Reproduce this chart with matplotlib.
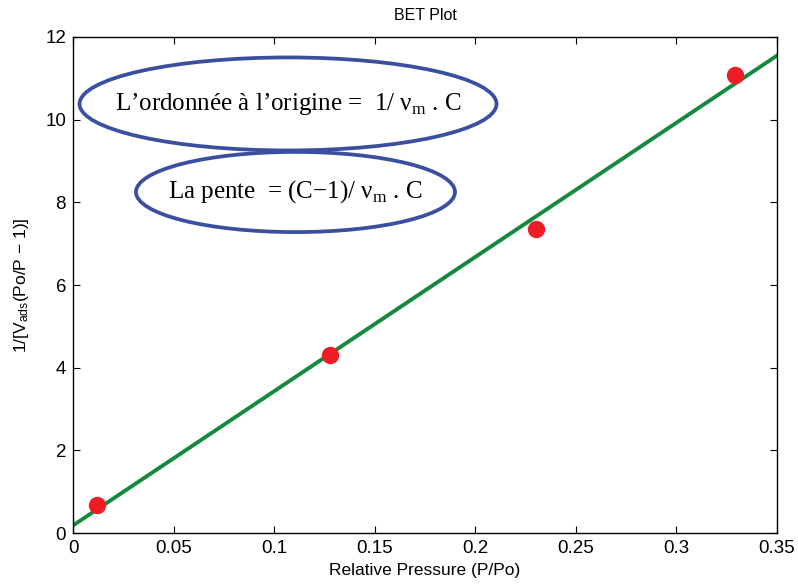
import numpy as np
import matplotlib
matplotlib.use('Agg')
import matplotlib.pyplot as plt
from matplotlib.patches import Ellipse

# data
rel_pressure = [0.0119, 0.128, 0.230, 0.329]
bet_values = [0.68, 4.31, 7.36, 11.08]
x_ticks = [0, 0.05, 0.1, 0.15, 0.2, 0.25, 0.3, 0.35]
x_tick_labels = ['0', '0.05', '0.1', '0.15', '0.2', '0.25', '0.3', '0.35']
y_ticks = [0, 2, 4, 6, 8, 10, 12]

plt.rcParams['font.family'] = ['Liberation Sans', 'DejaVu Sans']
plt.rcParams['mathtext.fontset'] = 'custom'
plt.rcParams['mathtext.rm'] = 'Liberation Sans'
plt.rcParams['mathtext.it'] = 'Liberation Sans'

fig = plt.figure(figsize=(7.98, 5.86), dpi=100)
ax = fig.add_axes([0.0915, 0.0904, 0.8822, 0.8465])

# linear fit of the BET points
slope, intercept = np.polyfit(rel_pressure, bet_values, 1)
x_fit = np.array([0, 0.35])
ax.plot(x_fit, slope * x_fit + intercept, color='#138a3e', lw=2.8, zorder=2)
ax.plot(rel_pressure, bet_values, 'o', color='#ee1c25', markersize=11.5, zorder=3)

ax.set_xlim(0, 0.35)
ax.set_ylim(0, 12)
ax.set_xticks(x_ticks)
ax.set_xticklabels(x_tick_labels)
ax.set_yticks(y_ticks)
ax.tick_params(direction='in', top=True, right=True, length=5, width=0.8,
               labelsize=13.5, colors='black', pad=5)
for s in ax.spines.values():
    s.set_linewidth(1.0)

ax.set_title('BET Plot', fontsize=11.5, pad=12)
ax.set_xlabel('Relative Pressure (P/Po)', fontsize=12.5, labelpad=4)
ax.set_ylabel(r'1/[V$_{\mathrm{ads}}$(Po/P $-$ 1)]', fontsize=12.5, labelpad=10)

# annotations
ell_color = '#3a4fa0'
ax.add_patch(Ellipse((0.1069, 10.38), 0.2073, 2.25, fill=False,
                     edgecolor=ell_color, lw=2.7, zorder=4))
ax.add_patch(Ellipse((0.1106, 8.25), 0.1586, 1.94, fill=False,
                     edgecolor=ell_color, lw=2.7, zorder=4))
serif = ['Liberation Serif', 'DejaVu Serif']
ax.text(0.1069, 10.38, 'L’ordonnée à l’origine =  1/ ν$_{\\mathregular{m}}$ . C',
        family=serif, fontsize=18, ha='center', va='center', zorder=5)
ax.text(0.1106, 8.25, 'La pente  = (C−1)/ ν$_{\\mathregular{m}}$ . C',
        family=serif, fontsize=18, ha='center', va='center', zorder=5)

fig.savefig('out.png', dpi=100)
